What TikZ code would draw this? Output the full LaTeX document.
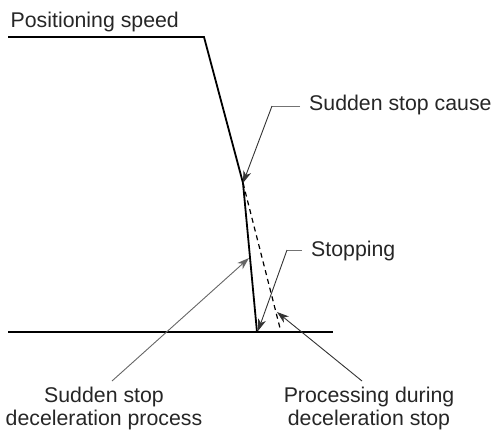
\documentclass[tikz,border=0pt]{standalone}
\usepackage{fontspec}
\setmainfont{Liberation Sans}
\usetikzlibrary{arrows.meta}
\begin{document}
\begin{tikzpicture}[x=1pt,y=-1pt,
  lbl/.style={inner sep=0pt, text=black!85, font=\fontsize{21.3}{23}\selectfont},
  curve/.style={line width=1.8pt, line join=miter},
  axisline/.style={line width=1.3pt},
  leader/.style={line width=0.9pt, draw=black!80, -{Stealth[length=12pt,width=8pt,inset=3.5pt]}},
  tick/.style={line width=0.9pt, draw=black!55}]
\useasboundingbox (0,0) rectangle (493,434);
% main curve
\coordinate (s0) at (8,37);
\coordinate (s1) at (204,37);
\coordinate (cause) at (243,183);
\coordinate (stop) at (257,332);
\coordinate (dstop) at (281,332);
\coordinate (a0) at (8,332);
\coordinate (a1) at (333,332);
\draw[curve] (s0) -- (s1) -- (cause) -- (stop);
\draw[line width=1.2pt, dash pattern=on 5pt off 4pt] (cause) -- (dstop);
\draw[axisline] (a0) -- (a1);
% labels
\node[lbl, anchor=base west] (tpos) at (10.5,27) {Positioning speed};
\node[lbl, anchor=base west] (tcause) at (309,110) {Sudden stop cause};
\node[lbl, anchor=base west] (tstop) at (311,256) {Stopping};
\node[lbl, anchor=north, align=center] (tdec) at (104,386.5) {Sudden stop\\deceleration process};
\node[lbl, anchor=north, align=center] (tproc) at (369,386.5) {Processing during\\deceleration stop};
% leader points
\coordinate (c0) at (300,106);
\coordinate (c1) at (272,106);
\coordinate (p0) at (302,250);
\coordinate (p1) at (287,250);
\coordinate (pt) at (258,331);
\coordinate (d0) at (112,381);
\coordinate (dt) at (249,258);
\coordinate (q0) at (362,381);
\coordinate (qt) at (277,312);
\draw[tick] (c0) -- (c1);
\draw[leader] (c1) -- (cause);
\draw[tick] (p0) -- (p1);
\draw[leader] (p1) -- (pt);
\draw[leader, draw=black!60] (d0) -- (dt);
\draw[leader] (q0) -- (qt);
\end{tikzpicture}
\end{document}
